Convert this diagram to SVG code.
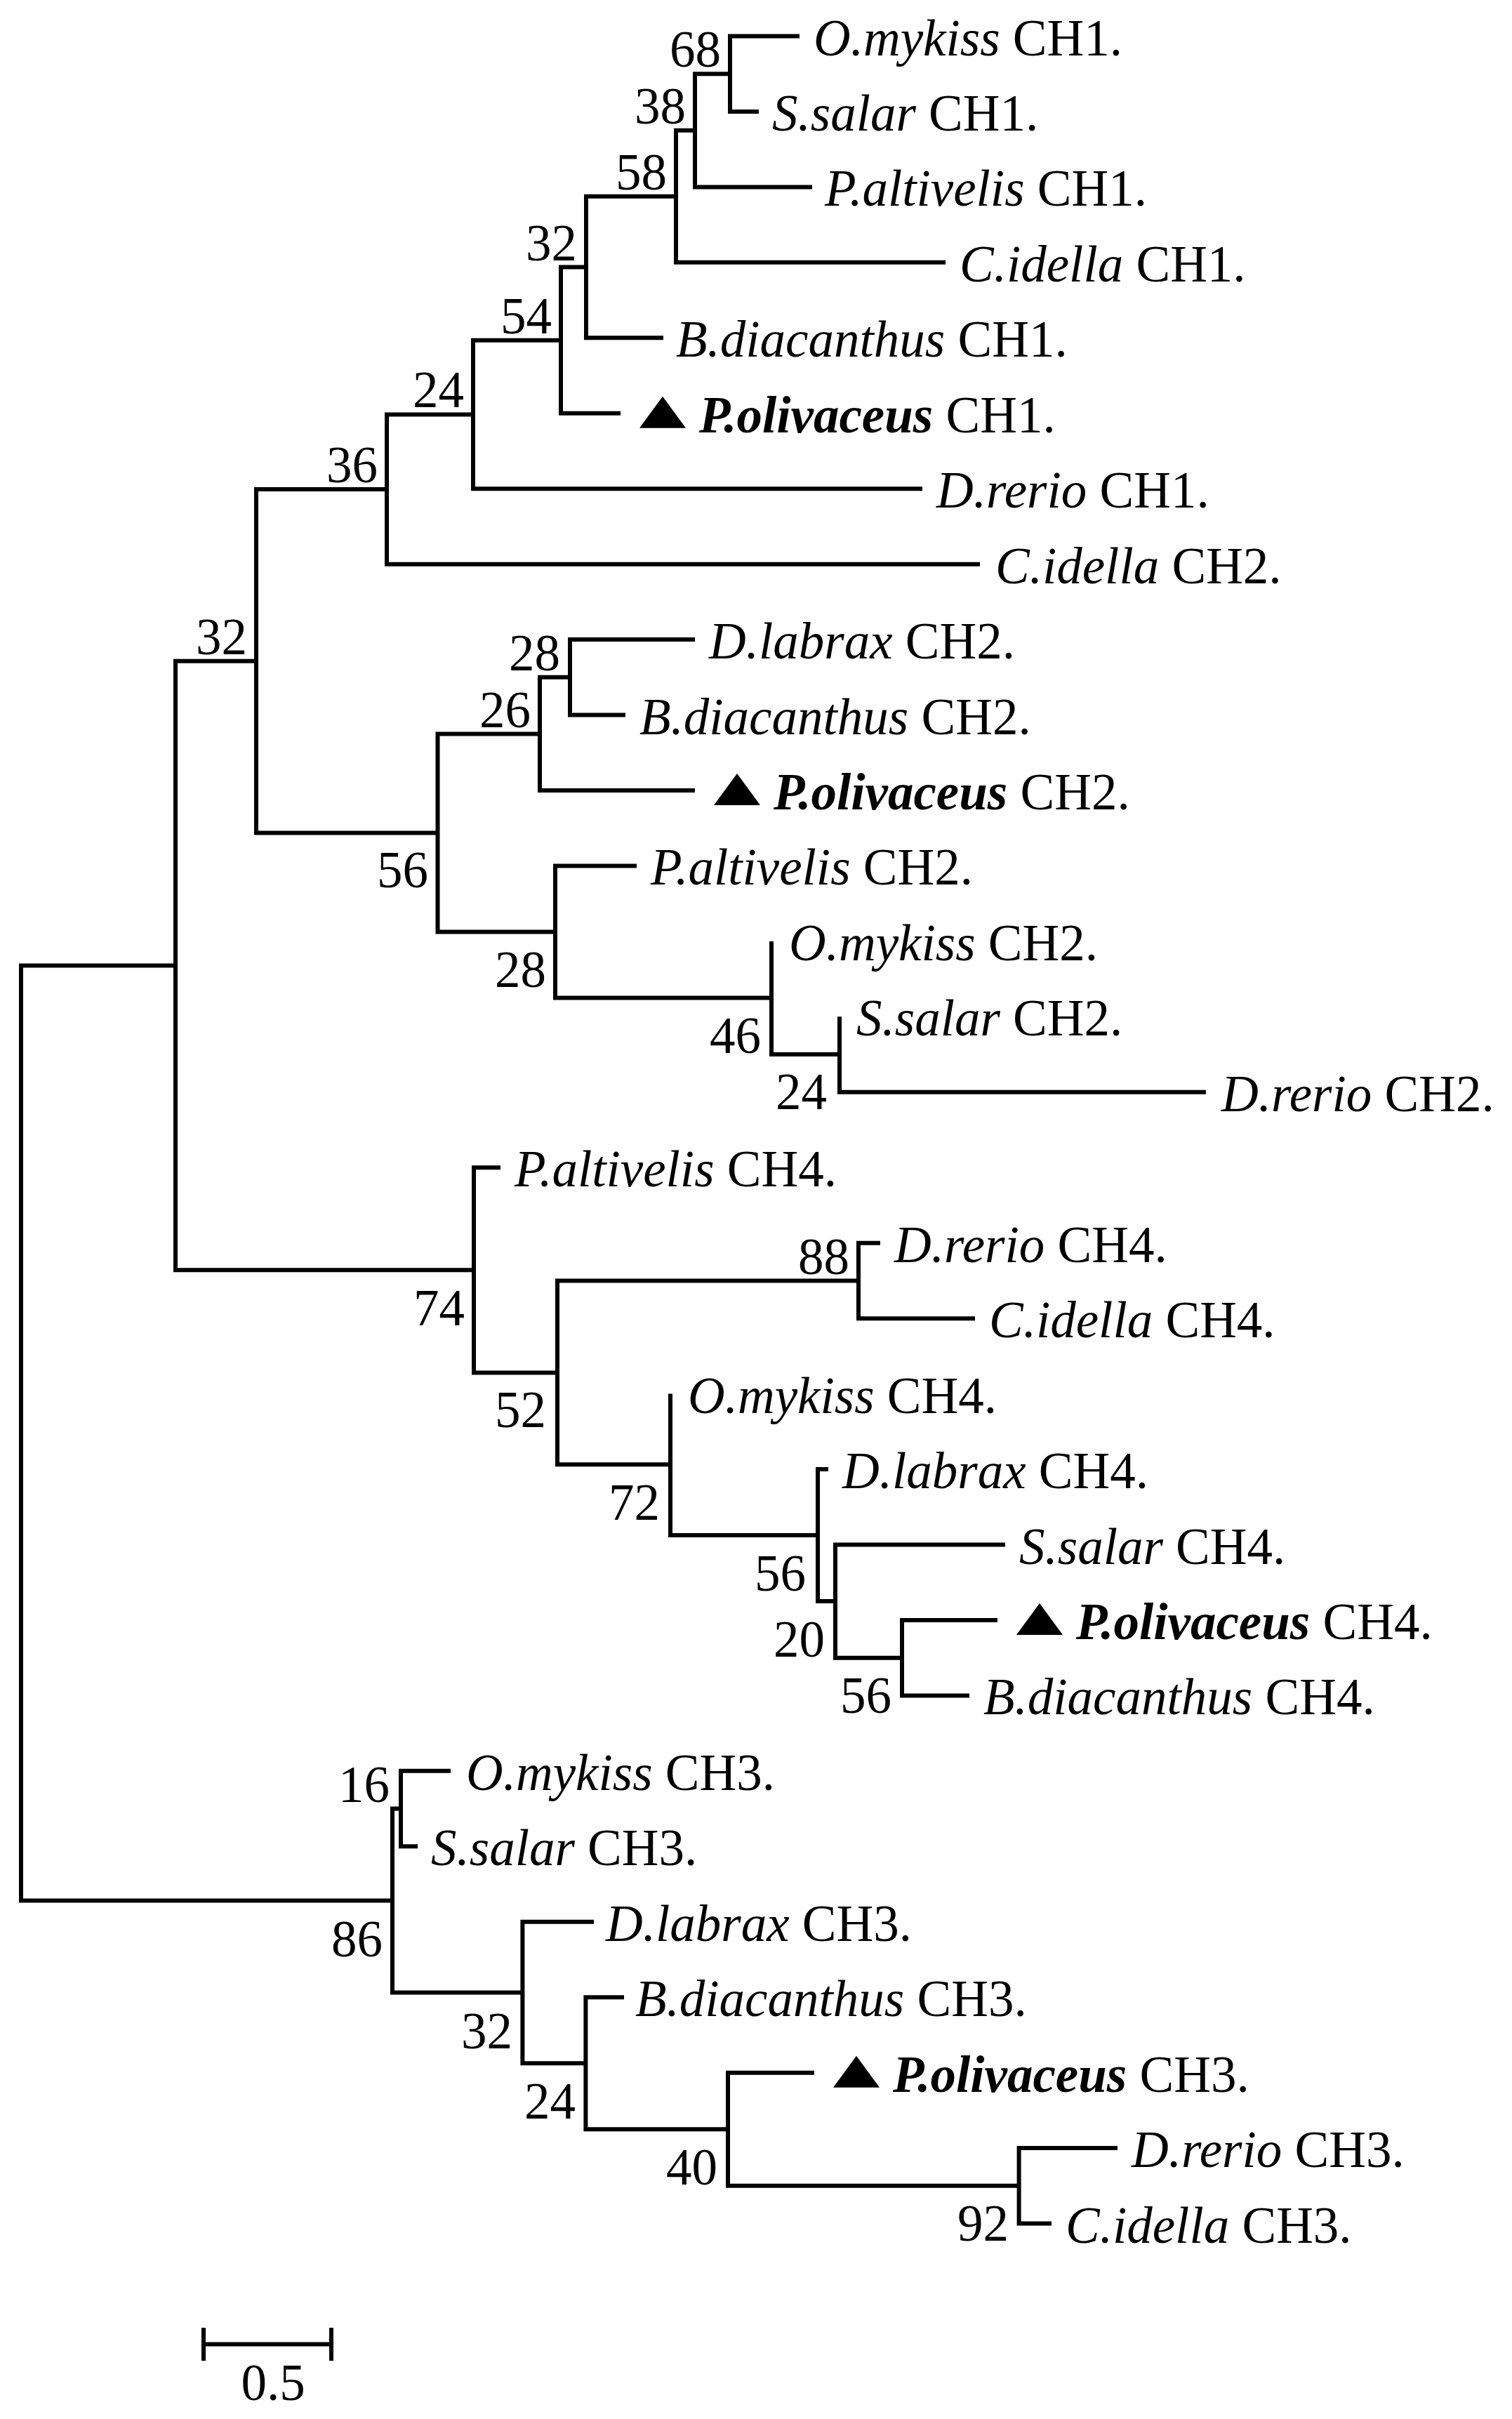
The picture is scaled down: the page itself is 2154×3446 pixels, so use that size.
<svg xmlns="http://www.w3.org/2000/svg" width="2154" height="3446" viewBox="0 0 2154 3446">
<style>
.e{fill:none;stroke:#000;stroke-width:6;stroke-linejoin:miter;stroke-linecap:butt}
text{font-family:"Liberation Serif","Times New Roman",serif;font-size:73px;fill:#000}
.b{text-anchor:end}
.i{font-style:italic}
.bi{font-style:italic;font-weight:bold}
.tri{fill:#000}
</style>
<rect width="2154" height="3446" fill="#fff"/>
<g id="connectors">
<path class="e" d="M1139,51.5 H1040 V158.95 H1081"/>
<path class="e" d="M1040,105.2 H990 V266.4 H1157"/>
<path class="e" d="M990,185.8 H963 V373.85 H1347"/>
<path class="e" d="M963,279.8 H835 V481.3 H945"/>
<path class="e" d="M835,380.6 H799 V588.75 H884"/>
<path class="e" d="M799,484.7 H674 V696.2 H1314"/>
<path class="e" d="M674,590.4 H551 V803.65 H1396"/>
<path class="e" d="M990,911.1 H812 V1018.55 H891"/>
<path class="e" d="M812,964.8 H769 V1126 H990"/>
<path class="e" d="M1196,1448.35 V1555.8 H1718"/>
<path class="e" d="M1099,1340.9 V1502.1 H1196"/>
<path class="e" d="M907,1233.45 H791 V1421.5 H1099"/>
<path class="e" d="M769,1045.4 H623.5 V1327.5 H791"/>
<path class="e" d="M551,697 H365 V1186.4 H623.5"/>
<path class="e" d="M1254,1770.7 H1223 V1878.15 H1389"/>
<path class="e" d="M1421,2307.95 H1285 V2415.4 H1381"/>
<path class="e" d="M1432,2200.5 H1190 V2361.7 H1285"/>
<path class="e" d="M1180,2093.05 H1165 V2281.1 H1190"/>
<path class="e" d="M955,1985.6 V2187.1 H1165"/>
<path class="e" d="M1223,1824.4 H794 V2086.3 H955"/>
<path class="e" d="M713,1663.25 H675 V1955.4 H794"/>
<path class="e" d="M365,941.7 H250 V1809.3 H675"/>
<path class="e" d="M642,2522.85 H571 V2630.3 H595"/>
<path class="e" d="M1592,3060.1 H1451.6 V3167.55 H1498"/>
<path class="e" d="M1160,2952.65 H1037 V3113.8 H1451.6"/>
<path class="e" d="M889,2845.2 H834.4 V3033.2 H1037"/>
<path class="e" d="M846,2737.75 H744.4 V2939.2 H834.4"/>
<path class="e" d="M571,2576.6 H559 V2838.5 H744.4"/>
<path class="e" d="M250,1375.5 H30 V2707.6 H559"/>
</g>
<g id="support-values">
<g id="n68"><text class="b" x="1027" y="95">68</text></g>
<g id="n38"><text class="b" x="977" y="176">38</text></g>
<g id="n58"><text class="b" x="950" y="270">58</text></g>
<g id="n32a"><text class="b" x="822" y="371">32</text></g>
<g id="n54"><text class="b" x="786" y="475">54</text></g>
<g id="n24a"><text class="b" x="661" y="580">24</text></g>
<g id="n36"><text class="b" x="538" y="687">36</text></g>
<g id="n32b"><text class="b" x="352" y="932">32</text></g>
<g id="n28a"><text class="b" x="798" y="955">28</text></g>
<g id="n26"><text class="b" x="756" y="1036">26</text></g>
<g id="n56a"><text class="b" x="610" y="1264">56</text></g>
<g id="n28b"><text class="b" x="778" y="1406">28</text></g>
<g id="n46"><text class="b" x="1084" y="1500">46</text></g>
<g id="n24b"><text class="b" x="1178" y="1580">24</text></g>
<g id="n74"><text class="b" x="662" y="1888">74</text></g>
<g id="n88"><text class="b" x="1210" y="1815">88</text></g>
<g id="n52"><text class="b" x="778" y="2033">52</text></g>
<g id="n72"><text class="b" x="940" y="2165">72</text></g>
<g id="n56b"><text class="b" x="1148" y="2266">56</text></g>
<g id="n20"><text class="b" x="1175" y="2360">20</text></g>
<g id="n56c"><text class="b" x="1270" y="2440">56</text></g>
<g id="n16"><text class="b" x="555" y="2567">16</text></g>
<g id="n86"><text class="b" x="545" y="2787">86</text></g>
<g id="n32c"><text class="b" x="730" y="2918">32</text></g>
<g id="n24c"><text class="b" x="820" y="3018">24</text></g>
<g id="n40"><text class="b" x="1022" y="3112">40</text></g>
<g id="n92"><text class="b" x="1437" y="3192">92</text></g>
</g>
<g id="leaves">
<g id="t0"><text x="1159" y="78.5"><tspan class="i">O.mykiss</tspan> CH1.</text></g>
<g id="t1"><text x="1100" y="186"><tspan class="i">S.salar</tspan> CH1.</text></g>
<g id="t2"><text x="1175" y="293.4"><tspan class="i">P.altivelis</tspan> CH1.</text></g>
<g id="t3"><text x="1367" y="400.9"><tspan class="i">C.idella</tspan> CH1.</text></g>
<g id="t4"><text x="963" y="508.3"><tspan class="i">B.diacanthus</tspan> CH1.</text></g>
<g id="t5"><polygon class="tri" points="911,609.75 977,609.75 944,564.75"/><text x="996" y="615.75"><tspan class="bi">P.olivaceus</tspan> CH1.</text></g>
<g id="t6"><text x="1334" y="723.2"><tspan class="i">D.rerio</tspan> CH1.</text></g>
<g id="t7"><text x="1418" y="830.65"><tspan class="i">C.idella</tspan> CH2.</text></g>
<g id="t8"><text x="1010" y="938.1"><tspan class="i">D.labrax</tspan> CH2.</text></g>
<g id="t9"><text x="911" y="1045.55"><tspan class="i">B.diacanthus</tspan> CH2.</text></g>
<g id="t10"><polygon class="tri" points="1017,1147 1083,1147 1050,1102"/><text x="1102" y="1153"><tspan class="bi">P.olivaceus</tspan> CH2.</text></g>
<g id="t11"><text x="927" y="1260.45"><tspan class="i">P.altivelis</tspan> CH2.</text></g>
<g id="t12"><text x="1124" y="1367.9"><tspan class="i">O.mykiss</tspan> CH2.</text></g>
<g id="t13"><text x="1220" y="1475.35"><tspan class="i">S.salar</tspan> CH2.</text></g>
<g id="t14"><text x="1740" y="1582.8"><tspan class="i">D.rerio</tspan> CH2.</text></g>
<g id="t15"><text x="733" y="1690.25"><tspan class="i">P.altivelis</tspan> CH4.</text></g>
<g id="t16"><text x="1274" y="1797.7"><tspan class="i">D.rerio</tspan> CH4.</text></g>
<g id="t17"><text x="1409" y="1905.15"><tspan class="i">C.idella</tspan> CH4.</text></g>
<g id="t18"><text x="980" y="2012.6"><tspan class="i">O.mykiss</tspan> CH4.</text></g>
<g id="t19"><text x="1200" y="2120.05"><tspan class="i">D.labrax</tspan> CH4.</text></g>
<g id="t20"><text x="1452" y="2227.5"><tspan class="i">S.salar</tspan> CH4.</text></g>
<g id="t21"><polygon class="tri" points="1448,2328.95 1514,2328.95 1481,2283.95"/><text x="1533" y="2334.95"><tspan class="bi">P.olivaceus</tspan> CH4.</text></g>
<g id="t22"><text x="1401" y="2442.4"><tspan class="i">B.diacanthus</tspan> CH4.</text></g>
<g id="t23"><text x="664" y="2549.85"><tspan class="i">O.mykiss</tspan> CH3.</text></g>
<g id="t24"><text x="614" y="2657.3"><tspan class="i">S.salar</tspan> CH3.</text></g>
<g id="t25"><text x="863" y="2764.75"><tspan class="i">D.labrax</tspan> CH3.</text></g>
<g id="t26"><text x="905" y="2872.2"><tspan class="i">B.diacanthus</tspan> CH3.</text></g>
<g id="t27"><polygon class="tri" points="1187,2973.65 1253,2973.65 1220,2928.65"/><text x="1272" y="2979.65"><tspan class="bi">P.olivaceus</tspan> CH3.</text></g>
<g id="t28"><text x="1612" y="3087.1"><tspan class="i">D.rerio</tspan> CH3.</text></g>
<g id="t29"><text x="1518" y="3194.55"><tspan class="i">C.idella</tspan> CH3.</text></g>
</g>
<g id="scale-bar">
<path class="e" d="M290,3339.5 H472 M290,3316 V3363 M472,3316 V3363"/>
<text x="389" y="3419" text-anchor="middle">0.5</text>
</g>
</svg>
